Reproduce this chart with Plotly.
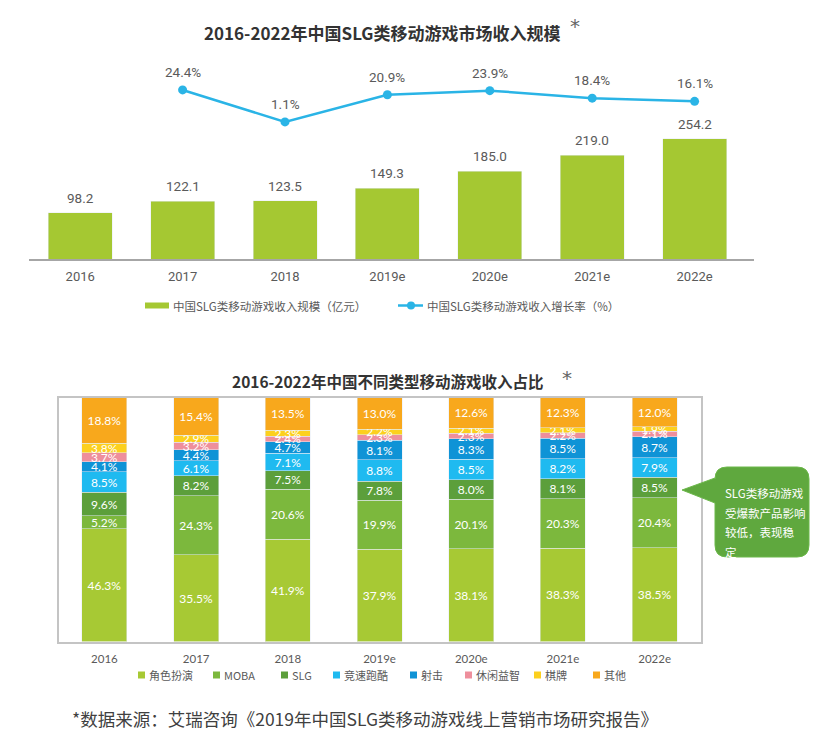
import plotly.graph_objects as go

# ---------------- data ----------------
years = ["2016", "2017", "2018", "2019e", "2020e", "2021e", "2022e"]
revenue = [98.2, 122.1, 123.5, 149.3, 185.0, 219.0, 254.2]          # 亿元
growth_years = ["2017", "2018", "2019e", "2020e", "2021e", "2022e"]
growth = [24.4, 1.1, 20.9, 23.9, 18.4, 16.1]                        # %

genres = ["角色扮演", "MOBA", "SLG", "竞速跑酷", "射击", "休闲益智", "棋牌", "其他"]
share_rpg = [46.3, 35.5, 41.9, 37.9, 38.1, 38.3, 38.5]
share_moba = [5.2, 24.3, 20.6, 19.9, 20.1, 20.3, 20.4]
share_slg = [9.6, 8.2, 7.5, 7.8, 8.0, 8.1, 8.5]
share_racing = [8.5, 6.1, 7.1, 8.8, 8.5, 8.2, 7.9]
share_shooter = [4.1, 4.4, 4.7, 8.1, 8.3, 8.5, 8.7]
share_casual = [3.7, 3.2, 2.4, 2.3, 2.3, 2.2, 2.1]
share_chess = [3.8, 2.9, 2.3, 2.2, 2.1, 2.1, 1.9]
share_other = [18.8, 15.4, 13.5, 13.0, 12.6, 12.3, 12.0]
shares = [share_rpg, share_moba, share_slg, share_racing,
          share_shooter, share_casual, share_chess, share_other]

bar_name = "中国SLG类移动游戏收入规模（亿元）"
line_name = "中国SLG类移动游戏收入增长率（%）"
title1 = "2016-2022年中国SLG类移动游戏市场收入规模"
title2 = "2016-2022年中国不同类型移动游戏收入占比"
callout_lines = ["SLG类移动游戏", "受爆款产品影响", "较低，表现稳", "定"]
source_text = "*数据来源：艾瑞咨询《2019年中国SLG类移动游戏线上营销市场研究报告》"

# ---------------- style ----------------
OFF = 8                      # default page body margin
W, H = 825 - OFF, 739 - OFF
BAR_COLOR = "#a5c832"
LINE_COLOR = "#2ab4e6"
GENRE_COLORS = ["#a7c934", "#7cb83d", "#5c9f3b", "#1fbaf0",
                "#0f93d6", "#ee8f9c", "#fcd01e", "#f8a81c"]
GRAY = "#5a5a5a"
CJK = "Noto Sans CJK SC"
NUM_NARROW = "Liberation Sans Narrow, Roboto, Lato, Noto Sans CJK SC"
NUM = "Lato, Open Sans, Noto Sans CJK SC"


def px(x):
    return (x - OFF) / W


def py(y):
    return 1 - (y - OFF) / H


fig = go.Figure()

# ---------------- top chart ----------------
fig.add_trace(go.Bar(
    x=years, y=revenue, name=bar_name, marker_color=BAR_COLOR,
    width=0.625, xaxis="x", yaxis="y", showlegend=False,
))
fig.add_trace(go.Scatter(
    x=growth_years, y=growth, name=line_name, mode="lines+markers",
    line=dict(color=LINE_COLOR, width=2.5),
    marker=dict(color=LINE_COLOR, size=9),
    xaxis="x", yaxis="y2", showlegend=False,
))

annotations = []
for yr, v in zip(years, revenue):
    annotations.append(dict(
        x=years.index(yr), y=v, xref="x", yref="y", text=f"{v:.1f}", showarrow=False,
        yanchor="middle", yshift=15,
        font=dict(family=NUM_NARROW, size=13.5, color=GRAY)))
for yr, g in zip(growth_years, growth):
    annotations.append(dict(
        x=years.index(yr), y=g, xref="x", yref="y2", text=f"{g:.1f}%", showarrow=False,
        yanchor="middle", yshift=18,
        font=dict(family=NUM_NARROW, size=13.5, color=GRAY)))

# ---------------- bottom chart ----------------
for name, vals, col in zip(genres, shares, GENRE_COLORS):
    fig.add_trace(go.Bar(
        x=years, y=vals, name=name, marker_color=col, width=0.49,
        xaxis="x3", yaxis="y3", showlegend=False,
        text=[f"{v:.1f}%" for v in vals], textposition="inside",
        insidetextanchor="middle", constraintext="none", textangle=0,
        textfont=dict(family=NUM, size=12, color="white"),
    ))

# titles
annotations += [
    dict(x=px(382), y=py(32), xref="paper", yref="paper", text=f"<b>{title1}</b>",
         showarrow=False, xanchor="center", yanchor="middle",
         font=dict(family=CJK, size=17, color="#333333")),
    dict(x=px(575), y=py(26), xref="paper", yref="paper", text="*",
         showarrow=False, xanchor="center", yanchor="middle",
         font=dict(family="DejaVu Sans", size=20, color="#666666")),
    dict(x=px(387), y=py(381), xref="paper", yref="paper", text=f"<b>{title2}</b>",
         showarrow=False, xanchor="center", yanchor="middle",
         font=dict(family=CJK, size=15.5, color="#333333")),
    dict(x=px(567), y=py(378), xref="paper", yref="paper", text="*",
         showarrow=False, xanchor="center", yanchor="middle",
         font=dict(family="DejaVu Sans", size=20, color="#666666")),
    dict(x=px(70), y=py(718), xref="paper", yref="paper", text=source_text,
         showarrow=False, xanchor="left", yanchor="middle",
         font=dict(family=CJK, size=17.5, color="#404040")),
]

shapes = []

# top legend (manual)
shapes.append(dict(type="rect", xref="paper", yref="paper",
                   x0=px(145), x1=px(169), y0=py(308.5), y1=py(302.5),
                   fillcolor=BAR_COLOR, line=dict(width=0)))
annotations.append(dict(x=px(171), y=py(305.5), xref="paper", yref="paper",
                        text=bar_name, showarrow=False, xanchor="left", yanchor="middle",
                        font=dict(family=CJK, size=11.5, color=GRAY)))
shapes.append(dict(type="line", xref="paper", yref="paper",
                   x0=px(398), x1=px(423), y0=py(305.5), y1=py(305.5),
                   line=dict(color=LINE_COLOR, width=2.5)))
shapes.append(dict(type="circle", xref="paper", yref="paper",
                   x0=px(407), x1=px(415), y0=py(309.5), y1=py(301.5),
                   fillcolor=LINE_COLOR, line=dict(width=0)))
annotations.append(dict(x=px(425), y=py(305.5), xref="paper", yref="paper",
                        text=line_name, showarrow=False, xanchor="left", yanchor="middle",
                        font=dict(family=CJK, size=11.5, color=GRAY)))

# bottom legend (manual)
legend_x = [138, 213, 281, 333, 410, 465, 534, 593]
for lx, name, col in zip(legend_x, genres, GENRE_COLORS):
    shapes.append(dict(type="rect", xref="paper", yref="paper",
                       x0=px(lx), x1=px(lx + 7), y0=py(678.5), y1=py(671.5),
                       fillcolor=col, line=dict(width=0)))
    annotations.append(dict(x=px(lx + 9), y=py(675), xref="paper", yref="paper",
                            text=name, showarrow=False, xanchor="left", yanchor="middle",
                            font=dict(family=CJK, size=11, color=GRAY)))

# callout bubble
L, R, T, B, r = 715, 809, 467, 557, 12
pts = (f"M{px(L + r)},{py(T)} L{px(R - r)},{py(T)} "
       f"Q{px(R)},{py(T)} {px(R)},{py(T + r)} L{px(R)},{py(B - r)} "
       f"Q{px(R)},{py(B)} {px(R - r)},{py(B)} L{px(L + r)},{py(B)} "
       f"Q{px(L)},{py(B)} {px(L)},{py(B - r)} L{px(L)},{py(503)} "
       f"L{px(682)},{py(490)} L{px(L)},{py(478)} L{px(L)},{py(T + r)} "
       f"Q{px(L)},{py(T)} {px(L + r)},{py(T)} Z")
shapes.append(dict(type="path", xref="paper", yref="paper", path=pts,
                   fillcolor="#5fa83e", line=dict(color="#6cb84a", width=1)))
for i, line in enumerate(callout_lines):
    annotations.append(dict(x=px(723), y=py(493 + 19.5 * i), xref="paper", yref="paper",
                            text=line, showarrow=False, xanchor="left", yanchor="middle",
                            font=dict(family=CJK, size=11.5, color="white")))

fig.update_layout(
    width=W, height=H, autosize=False,
    margin=dict(l=0, r=0, t=0, b=0),
    paper_bgcolor="white", plot_bgcolor="white",
    barmode="stack", showlegend=False,
    xaxis=dict(domain=[px(29), px(754)], range=[-0.5, 6.58], type="category",
               categoryorder="array", categoryarray=years,
               showline=True, linecolor="#a6a6a6", linewidth=2, ticks="",
               showgrid=False, zeroline=False, anchor="y",
               ticklabelstandoff=4,
               tickfont=dict(family=NUM_NARROW, size=13, color=GRAY)),
    yaxis=dict(domain=[py(259), py(60)], range=[0, 420.7], visible=False,
               anchor="x"),
    yaxis2=dict(overlaying="y", range=[-98.7, 46.2], visible=False, anchor="x"),
    xaxis3=dict(domain=[px(58.6), px(700.5)], range=[-0.5, 6.5], type="category",
                categoryorder="array", categoryarray=years,
                showline=True, mirror=True, linecolor="#c4c4c4", linewidth=1.5,
                ticks="", showgrid=False, zeroline=False, anchor="y3",
                ticklabelstandoff=6,
                tickfont=dict(family=NUM, size=11.5, color=GRAY)),
    yaxis3=dict(domain=[py(641.5), py(397.5)], range=[0, 100],
                showline=True, mirror=True, linecolor="#c4c4c4", linewidth=1.5,
                showticklabels=False, ticks="", showgrid=False, zeroline=False,
                anchor="x3"),
    annotations=annotations,
    shapes=shapes,
)

fig.write_html("out.html")
